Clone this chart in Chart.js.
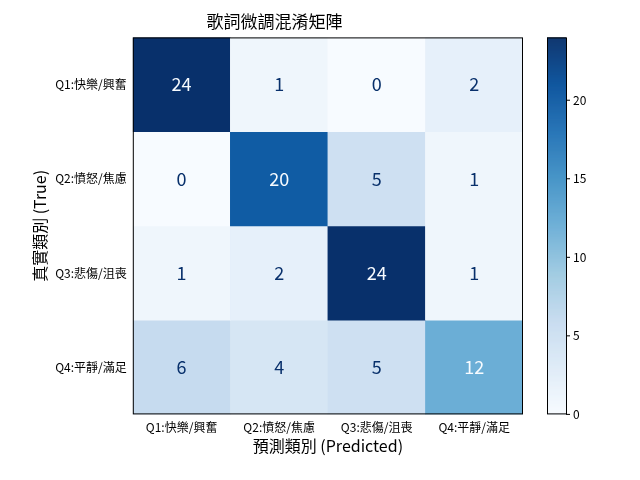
<!DOCTYPE html>
<html><head><meta charset="utf-8">
<script src="https://cdn.jsdelivr.net/npm/chart.js@4"></script>
<style>body{margin:0;background:#fff}#w{width:640px;height:480px}</style>
</head><body><div id="w"><canvas id="c"></canvas></div>
<script>
const categories = ["Q1:快樂/興奮","Q2:憤怒/焦慮","Q3:悲傷/沮喪","Q4:平靜/滿足"];
const row0 = [24,1,0,2];
const row1 = [0,20,5,1];
const row2 = [1,2,24,1];
const row3 = [6,4,5,12];
const rows = [row0,row1,row2,row3];
const colorbarTicks = [0,5,10,15,20];
const vmin = 0, vmax = 24;
const F = "'Noto Sans CJK TC','DejaVu Sans',sans-serif";

const stops = ["#f7fbff","#deebf7","#c6dbef","#9ecae1","#6baed6","#4292c6","#2171b5","#08519c","#08306b"];
function hex(h){return [1,3,5].map(i=>parseInt(h.substr(i,2),16));}
function blues(t){t=Math.max(0,Math.min(1,t));const p=t*8,i=Math.min(7,Math.floor(p)),f=p-i;
 const a=hex(stops[i]),b=hex(stops[i+1]);return `rgb(${a.map((v,k)=>Math.round(v+(b[k]-v)*f)).join(',')})`;}

const datasets = rows.map((r,ri)=>({
  data: r.map(()=>[ri-0.5, ri+0.5]),
  values: r,
  backgroundColor: r.map(v=>blues((v-vmin)/(vmax-vmin))),
  borderWidth:0, grouped:false, barPercentage:1, categoryPercentage:1
}));

const plug = {
  id:'extras',
  afterDatasetsDraw(ch){
    const ctx=ch.ctx, a=ch.chartArea;
    ctx.save();
    ctx.font="18px "+F; ctx.textAlign='center'; ctx.textBaseline='middle';
    ch.data.datasets.forEach((ds,di)=>{
      ch.getDatasetMeta(di).data.forEach((el,j)=>{
        const v=ds.values[j];
        ctx.fillStyle = v < (vmax+vmin)/2 ? "#08306b" : "#f7fbff";
        ctx.fillText(String(v), el.x, (el.y+el.base)/2);
      });
    });
    ctx.strokeStyle='#000'; ctx.lineWidth=1;
    ctx.strokeRect(a.left+0.5,a.top+0.5,a.right-a.left-1,a.bottom-a.top-1);
    const x0=a.right+24, w=19, top=a.top, bot=a.bottom;
    for(let y=top;y<bot;y++){ctx.fillStyle=blues((bot-y)/(bot-top));ctx.fillRect(x0,y,w,1.5);}
    ctx.strokeRect(x0+0.5,top+0.5,w,bot-top-1);
    ctx.fillStyle='#000'; ctx.font="12px "+F; ctx.textAlign='left';
    colorbarTicks.forEach(t=>{const y=bot-(t-vmin)/(vmax-vmin)*(bot-top);
      ctx.beginPath();ctx.moveTo(x0+w,y);ctx.lineTo(x0+w+4,y);ctx.stroke();
      ctx.fillText(String(t),x0+w+7,y);});
    ctx.restore();
  }
};

new Chart(document.getElementById('c'),{
  type:'bar',
  data:{labels:categories,datasets},
  options:{
    responsive:true,maintainAspectRatio:false,animation:false,
    layout:{padding:{left:26,right:117,top:7,bottom:20}},
    plugins:{legend:{display:false},tooltip:{enabled:false},
      title:{display:true,text:"歌詞微調混淆矩陣",color:'#000',font:{family:F,size:17,weight:'normal'},padding:{top:4,bottom:6}}},
    scales:{
      x:{type:'category',grid:{display:false,drawTicks:true,tickLength:4},border:{display:false},
        ticks:{color:'#000',font:{family:F,size:12},maxRotation:0,padding:2},
        title:{display:true,text:"預測類別 (Predicted)",color:'#000',font:{family:F,size:16},padding:{top:0}}},
      y:{type:'linear',min:-0.5,max:3.5,reverse:true,grid:{display:false,tickLength:4},border:{display:false},
        afterBuildTicks(s){s.ticks=[0,1,2,3].map(v=>({value:v}));},
        ticks:{color:'#000',font:{family:F,size:12},padding:2,callback:v=>categories[v]},
        title:{display:true,text:"真實類別 (True)",color:'#000',font:{family:F,size:16}}}
    }
  },
  plugins:[plug]
});
</script></body></html>
